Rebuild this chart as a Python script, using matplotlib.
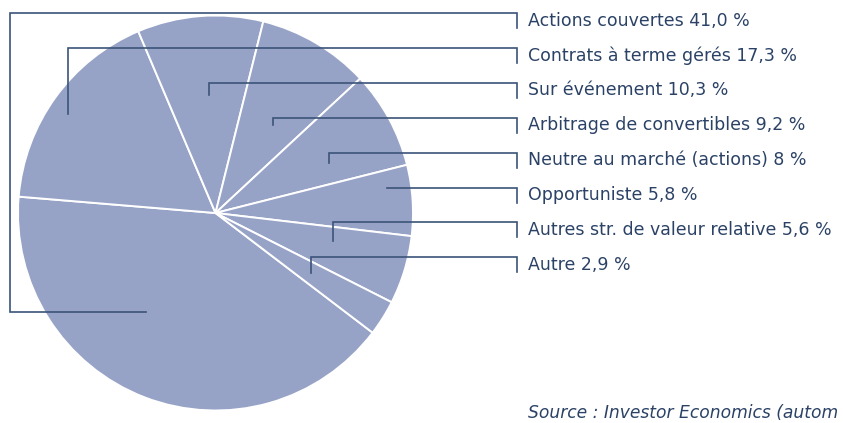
import numpy as np
import matplotlib.pyplot as plt

# Répartition des stratégies (%)
noms = ['Actions couvertes', 'Contrats à terme gérés', 'Sur événement',
        'Arbitrage de convertibles', 'Neutre au marché (actions)',
        'Opportuniste', 'Autres str. de valeur relative', 'Autre']
valeurs = [41.0, 17.3, 10.3, 9.2, 8, 5.8, 5.6, 2.9]
textes_pct = ['41,0', '17,3', '10,3', '9,2', '8', '5,8', '5,6', '2,9']
source = 'Source : Investor Economics (autom'

# mise en page (pixels)
W, H = 843, 423
cx, cy, R = 215.5, H - 213, 197.5
couleur_pie = '#96a3c7'
couleur_trait = '#3b5478'
couleur_texte = '#2b4266'

# point d'ancrage de chaque trait : fraction du rayon, décalage d'angle
r_frac = [0.61, 0.90, 0.60, 0.53, 0.63, 0.88, 0.61, 0.57]
d_angle = [-14, 2, -1.5, -2.5, -4.7, 5.4, 3.5, 0]
y_lignes = [13 + i * 34.9 for i in range(len(noms))]
x_tick, h_tick, x_texte = 517, 15, 528

fig = plt.figure(figsize=(W / 100, H / 100), dpi=100)
ax = fig.add_axes([0, 0, 1, 1])
ax.set_xlim(0, W)
ax.set_ylim(0, H)
ax.axis('off')

wedges, _ = ax.pie(valeurs, center=(cx, cy), radius=R, startangle=-37.3,
                   counterclock=False, colors=[couleur_pie] * len(valeurs),
                   wedgeprops=dict(edgecolor='white', linewidth=1.4))
ax.set_xlim(0, W)
ax.set_ylim(0, H)
ax.set_aspect('equal')

for i, w in enumerate(wedges):
    a = np.radians((w.theta1 + w.theta2) / 2 + d_angle[i])
    ax0 = cx + r_frac[i] * R * np.cos(a)
    ay0 = cy + r_frac[i] * R * np.sin(a)
    yl = H - y_lignes[i]
    if i == 0:
        # le trait de la plus grande part passe par la gauche
        xs = [ax0, 10, 10, x_tick, x_tick]
        ys = [ay0, ay0, yl, yl, yl - h_tick]
    elif abs(ay0 - yl) < 3:
        xs = [ax0, x_tick, x_tick]
        ys = [yl, yl, yl - h_tick]
    else:
        xs = [ax0, ax0, x_tick, x_tick]
        ys = [ay0, yl, yl, yl - h_tick]
    ax.plot(xs, ys, color=couleur_trait, lw=1.2, solid_joinstyle='miter')
    ax.text(x_texte, yl - 7.5, f'{noms[i]} {textes_pct[i]} %', fontsize=12.5,
            color=couleur_texte, va='center', ha='left')

ax.text(x_texte, H - 413, source, fontsize=12.3, style='italic',
        color=couleur_texte, va='center', ha='left')

fig.savefig('out.png', dpi=100)
